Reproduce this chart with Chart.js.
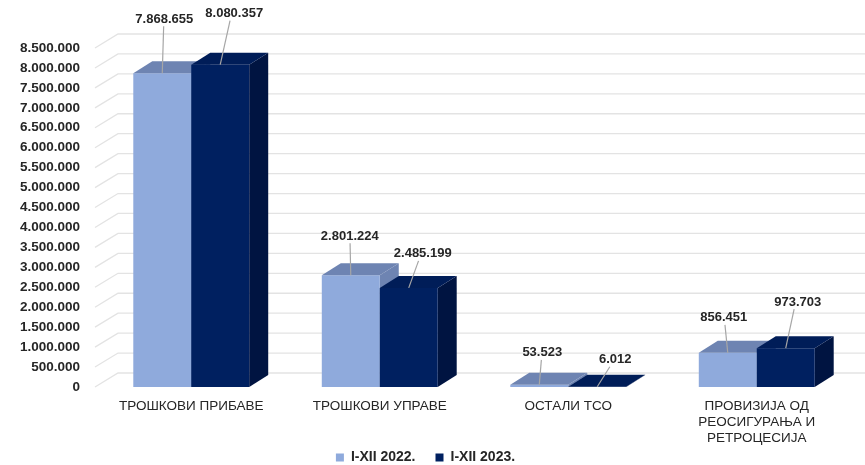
<!DOCTYPE html>
<html>
<head>
<meta charset="utf-8">
<script src="https://cdn.jsdelivr.net/npm/chart.js@4/dist/chart.umd.min.js"></script>
<style>
html,body{margin:0;padding:0;background:#ffffff;}
#wrap{width:865px;height:465px;}
</style>
</head>
<body>
<div id="wrap"><canvas id="c" width="865" height="465"></canvas></div>
<script>
// ---- data ----
const categories = [
  'ТРОШКОВИ ПРИБАВЕ',
  'ТРОШКОВИ УПРАВЕ',
  'ОСТАЛИ ТСО',
  ['ПРОВИЗИЈА ОД', 'РЕОСИГУРАЊА И', 'РЕТРОЦЕСИЈА']
];
const seriesLabels = ['I-XII 2022.', 'I-XII 2023.'];
const values2022 = [7868655, 2801224, 53523, 856451];
const values2023 = [8080357, 2485199, 6012, 973703];
const yMin = 0;
const yMax = 8500000;
const yStep = 500000;

// ---- styling (not data) ----
const frontColors = ['#8FAADC', '#002060'];
const topColors = ['#6E84B2', '#001D58'];
const sideColors = ['#6E84B2', '#001441'];
const DEPTH_X = 19, DEPTH_Y = -12;
const GRID_DX = 23, GRID_DY = -14;
// data-label placement relative to each bar's top-centre (px)
const labelOffsets = [
  [[2, -55], [-1, -40], [3, -33], [-4, -36]],
  [[14, -52], [14, -35], [18, -28], [12, -47]]
];
const FONT = "'Liberation Sans', Arial, Helvetica, sans-serif";
const TEXT = '#262626';

function fmt(v) {
  return String(Math.round(v)).replace(/\B(?=(\d{3})+(?!\d))/g, '.');
}

const bars3d = {
  id: 'bars3d',
  afterLayout(chart) {
    // let the multi-line category label extend below the axis box
    chart.scales.x.bottom = chart.height;
  },
  beforeDatasetsDraw(chart) {
    const ctx = chart.ctx, ys = chart.scales.y, a = chart.chartArea;
    ctx.save();
    ctx.strokeStyle = '#E3E3E3';
    ctx.lineWidth = 1.3;
    ys.ticks.forEach(t => {
      const y = ys.getPixelForValue(t.value);
      ctx.beginPath();
      ctx.moveTo(a.left - 2, y);
      ctx.lineTo(a.left - 2 + GRID_DX, y + GRID_DY);
      ctx.lineTo(chart.width, y + GRID_DY);
      ctx.stroke();
    });
    ctx.restore();
  },
  beforeDatasetDraw() { return false; },
  afterDatasetsDraw(chart) {
    const ctx = chart.ctx;
    const metas = [chart.getDatasetMeta(0), chart.getDatasetMeta(1)];
    const poly = (pts, color) => {
      ctx.fillStyle = color;
      ctx.beginPath();
      ctx.moveTo(pts[0][0], pts[0][1]);
      for (let k = 1; k < pts.length; k++) ctx.lineTo(pts[k][0], pts[k][1]);
      ctx.closePath();
      ctx.fill();
    };
    ctx.save();
    for (let i = 0; i < categories.length; i++) {
      metas.forEach((m, di) => {
        const p = m.data[i].getProps(['x', 'y', 'base', 'width'], true);
        const l = p.x - p.width / 2, r = p.x + p.width / 2, t = Math.min(p.y, p.base), b = Math.max(p.y, p.base);
        poly([[r, t], [r + DEPTH_X, t + DEPTH_Y], [r + DEPTH_X, b + DEPTH_Y], [r, b]], sideColors[di]);
        poly([[l, t], [r, t], [r, b], [l, b]], frontColors[di]);
        poly([[l, t], [l + DEPTH_X, t + DEPTH_Y], [r + DEPTH_X, t + DEPTH_Y], [r, t]], topColors[di]);
      });
    }
    // data labels with leader lines
    ctx.font = 'bold 13px ' + FONT;
    ctx.textAlign = 'center';
    ctx.textBaseline = 'middle';
    metas.forEach((m, di) => {
      const vals = chart.data.datasets[di].data;
      m.data.forEach((el, i) => {
        const p = el.getProps(['x', 'y'], true);
        const lx = p.x + labelOffsets[di][i][0];
        const ly = p.y + labelOffsets[di][i][1];
        ctx.strokeStyle = '#A6A6A6';
        ctx.lineWidth = 1.2;
        ctx.beginPath();
        ctx.moveTo(lx + (p.x - lx) * 0.3, ly + 8);
        ctx.lineTo(p.x, p.y);
        ctx.stroke();
        ctx.fillStyle = TEXT;
        ctx.fillText(fmt(vals[i]), lx, ly + 1);
      });
    });
    ctx.restore();
  }
};

Chart.defaults.font.family = FONT;
Chart.defaults.color = TEXT;

new Chart(document.getElementById('c'), {
  type: 'bar',
  data: {
    labels: categories,
    datasets: [
      { label: seriesLabels[0], data: values2022, backgroundColor: frontColors[0], borderWidth: 0 },
      { label: seriesLabels[1], data: values2023, backgroundColor: frontColors[1], borderWidth: 0 }
    ]
  },
  options: {
    responsive: false,
    animation: false,
    devicePixelRatio: 1,
    layout: { padding: { left: 0, right: 14, top: 48, bottom: -9.5 } },
    datasets: { bar: { categoryPercentage: 0.615, barPercentage: 1.0 } },
    scales: {
      x: {
        grid: { display: false, drawTicks: false },
        border: { display: false },
        ticks: { font: { size: 13.5, lineHeight: 1.18 }, color: TEXT, padding: 11, maxRotation: 0, autoSkip: false },
        afterFit(s) { s.height = 43.5; }
      },
      y: {
        min: yMin, max: yMax,
        grid: { display: false, drawTicks: false },
        border: { display: false },
        ticks: {
          stepSize: yStep, autoSkip: false, padding: 17,
          font: { size: 13.5, weight: 'bold' }, color: TEXT,
          callback: v => fmt(v)
        },
        afterFit(s) { s.width = 97; }
      }
    },
    plugins: {
      tooltip: { enabled: false },
      legend: {
        position: 'bottom',
        labels: { boxWidth: 8, boxHeight: 8, padding: 20, color: TEXT, font: { size: 14, weight: 'bold' } }
      }
    }
  },
  plugins: [bars3d]
});
</script>
</body>
</html>
